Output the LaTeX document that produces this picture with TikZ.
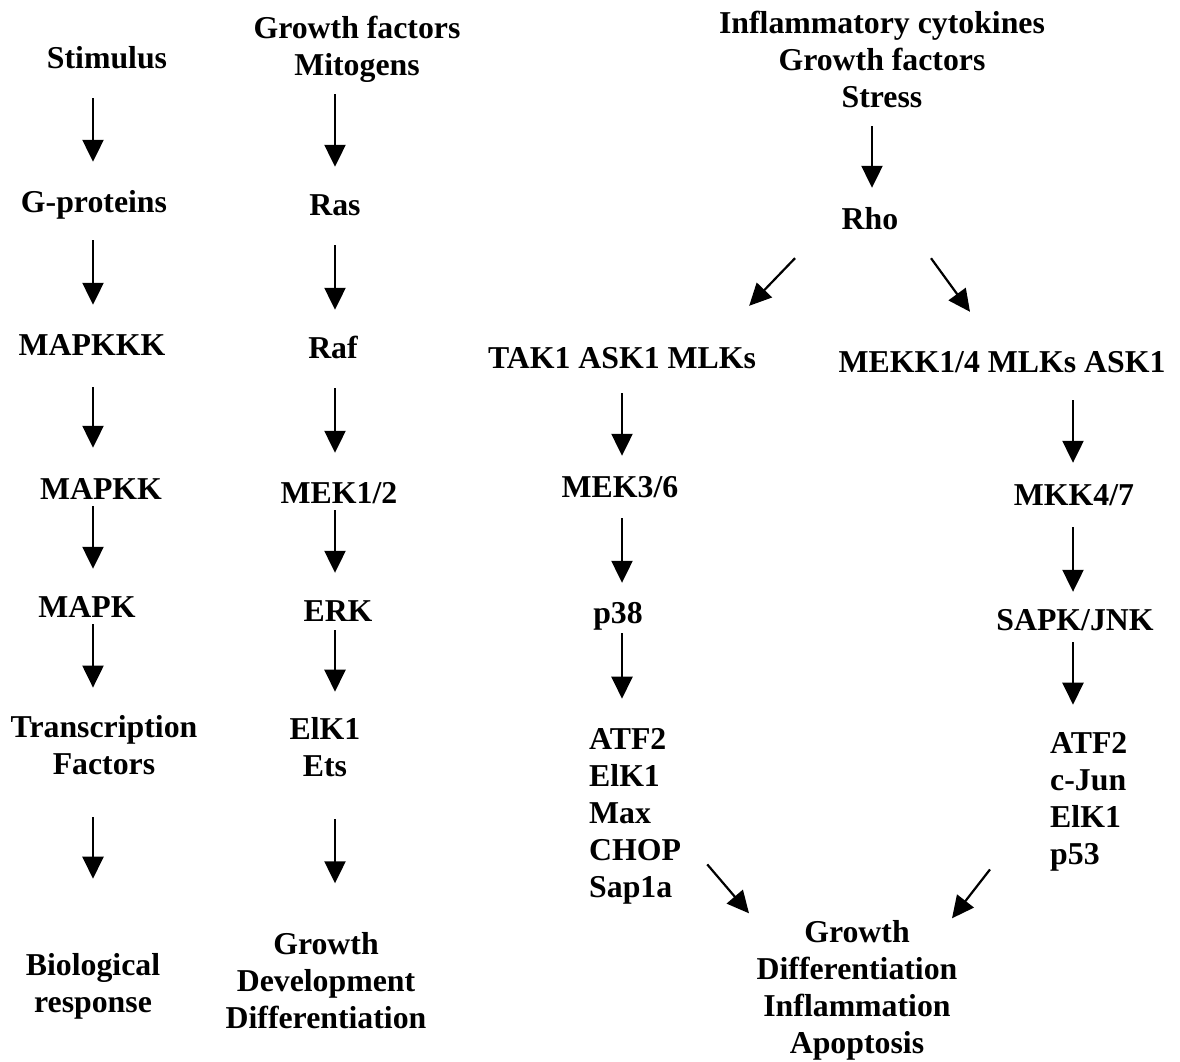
\documentclass[tikz,border=0pt]{standalone}
\usepackage{fontspec}
\setmainfont{Liberation Serif}
\usetikzlibrary{arrows.meta, positioning}

\begin{document}
\begin{tikzpicture}[
    x=1pt, y=-1pt,
    lbl/.style={font=\fontsize{31.8}{37}\selectfont\bfseries, inner sep=0pt},
    box/.style={lbl, anchor=base, text height=22pt, text depth=7pt},
    stack/.style={lbl, anchor=north, align=center},
    genes/.style={lbl, anchor=north west, align=left},
    arrow/.style={-{Triangle[length=22pt, width=21pt]}, line width=2.2pt, shorten <=20pt, shorten >=26pt}
]
\useasboundingbox (0,0) rectangle (1180,1061);

\coordinate (c1) at (93,0);
\coordinate (c2) at (335,0);
\coordinate (c3) at (622,0);
\coordinate (c4) at (1073,0);
\coordinate (c5) at (872,0);

\node[box] (stim) at (107,68) {Stimulus};
\node[box] (gprot) at (94,212) {G-proteins};
\node[box] (mkkk) at (92,355) {MAPKKK};
\node[box] (mkk) at (101,499) {MAPKK};
\node[box] (mapk) at (87,617) {MAPK};
\node[stack] (tf) at (104,715.6) {Transcription\\Factors};
\node[stack] (bio) at (93,953.7) {Biological\\response};

\node[stack] (gf) at (357,16.2) {Growth factors\\Mitogens};
\node[box] (ras) at (335,215) {Ras};
\node[box] (raf) at (333,358) {Raf};
\node[box] (mek12) at (339,503) {MEK1/2};
\node[box] (erk) at (338,621) {ERK};
\node[stack] (elk) at (325,717.7) {ElK1\\Ets};
\node[stack] (gdd) at (326,932.3) {Growth\\Development\\Differentiation};

\node[stack] (inflam) at (882,11.2) {Inflammatory cytokines\\Growth factors\\Stress};
\node[box] (rho) at (870,229) {Rho};
\node[box] (tak) at (622,368) {TAK1 ASK1 MLKs};
\node[box] (mekk) at (1002,372) {MEKK1/4 MLKs ASK1};
\node[box] (mek36) at (620,497) {MEK3/6};
\node[box] (p38) at (618,623) {p38};
\node[genes] (atfa) at (589,728.7) {ATF2\\ElK1\\Max\\CHOP\\Sap1a};
\node[box] (mkk47) at (1074,505) {MKK4/7};
\node[box] (sapk) at (1075,630) {SAPK/JNK};
\node[genes] (atfb) at (1050,732.7) {ATF2\\c-Jun\\ElK1\\p53};
\node[stack] (outcome) at (857,920.3) {Growth\\Differentiation\\Inflammation\\Apoptosis};

\draw[arrow, shorten <=23pt, shorten >=28pt] (stim.south -| c1) -- (gprot.north -| c1);
\draw[arrow, shorten <=21pt, shorten >=28pt] (gprot.south -| c1) -- (mkkk.north -| c1);
\draw[arrow, shorten <=25pt, shorten >=29pt] (mkkk.south -| c1) -- (mkk.north -| c1);
\draw[arrow, shorten <=0pt] (mkk.south -| c1) -- (mapk.north -| c1);
\draw[arrow, shorten <=0pt, shorten >=28pt] (mapk.south -| c1) -- (tf.north -| c1);
\draw[arrow, shorten <=42pt, shorten >=75pt] (tf.south -| c1) -- (bio.north -| c1);

\draw[arrow, shorten <=11pt] (gf.south -| c2) -- (ras.north -| c2);
\draw[arrow, shorten <=23pt] (ras.south -| c2) -- (raf.north -| c2);
\draw[arrow, shorten <=23pt, shorten >=28pt] (raf.south -| c2) -- (mek12.north -| c2);
\draw[arrow, shorten <=0pt] (mek12.south -| c2) -- (erk.north -| c2);
\draw[arrow, shorten <=2pt] (erk.south -| c2) -- (elk.north -| c2);
\draw[arrow, shorten <=42pt, shorten >=49pt] (elk.south -| c2) -- (gdd.north -| c2);

\draw[arrow, shorten <=18pt, shorten >=19pt] (inflam.south -| c5) -- (rho.north -| c5);
\draw[arrow, shorten <=0pt, shorten >=0pt] ([xshift=-75pt, yshift=-22pt]rho.south) -- ([xshift=-7pt, yshift=40pt]tak.north east);
\draw[arrow, shorten <=0pt, shorten >=0pt] ([xshift=61pt, yshift=-22pt]rho.south) -- ([xshift=-32pt, yshift=38pt]mekk.north);

\draw[arrow, shorten <=18pt, shorten >=19pt] (tak.south -| c3) -- (mek36.north -| c3);
\draw[arrow, shorten <=14pt, shorten >=18pt] (mek36.south -| c3) -- (p38.north -| c3);
\draw[arrow, shorten <=3pt, shorten >=30pt] (p38.south -| c3) -- (atfa.north -| c3);

\draw[arrow, shorten <=21pt, shorten >=20pt] (mekk.south -| c4) -- (mkk47.north -| c4);
\draw[arrow, shorten <=15pt, shorten >=16pt] (mkk47.south -| c4) -- (sapk.north -| c4);
\draw[arrow, shorten <=5pt, shorten >=28pt] (sapk.south -| c4) -- (atfb.north -| c4);

\draw[arrow, shorten <=0pt, shorten >=0pt] ([xshift=26pt, yshift=40.5pt]atfa.south east) -- ([xshift=-108pt, yshift=7pt]outcome.north);
\draw[arrow, shorten <=0pt, shorten >=0pt] ([xshift=-60pt, yshift=2.5pt]atfb.south west) -- ([xshift=95pt, yshift=2pt]outcome.north);
\end{tikzpicture}
\end{document}
